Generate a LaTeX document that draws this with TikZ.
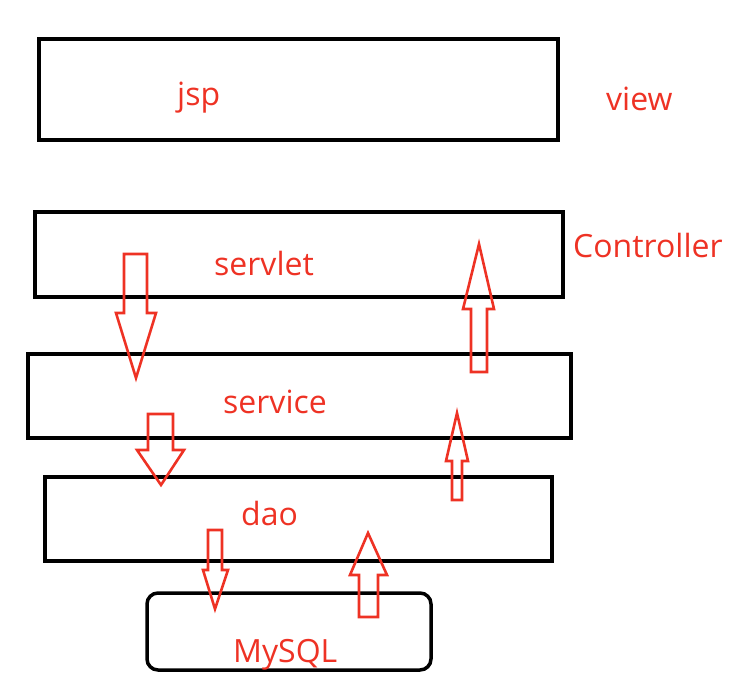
\documentclass[tikz,border=0pt]{standalone}
\usepackage{fontspec}
\setmainfont{Open Sans}
\usetikzlibrary{calc}

\definecolor{layerred}{RGB}{238,50,36}

\begin{document}
\begin{tikzpicture}[x=1pt, y=-1pt,
  box/.style={line width=3.5pt, draw=black},
  lbl/.style={text=layerred, anchor=base west, inner sep=0pt, font=\fontsize{32}{38}\selectfont},
  blk/.style={draw=layerred, line width=2.6pt, line join=miter}]

\useasboundingbox (0,0) rectangle (754,676);

% layers
\draw[box] (39,39) rectangle (558,140);
\draw[box] (35,212) rectangle (563,297);
\draw[box] (28,354) rectangle (571,438);
\draw[box] (45,477) rectangle (552,561);
\draw[box, rounded corners=11pt] (147,593) rectangle (431,670);

\node[lbl] (jsp) at (177,106) {jsp};
\node[lbl] (view) at (606,111) {view};
\node[lbl] (servlet) at (214,275) {servlet};
\node[lbl] (ctrl) at (573,258) {Controller};
\node[lbl] (service) at (223,413) {service};
\node[lbl] (dao) at (241,525) {dao};
\node[lbl] (mysql) at (233,662) {MySQL};

% request going down
\draw[blk] (124,254) -- (147,254) -- (147,313) -- (156,313) -- (136,378)
  -- (116,313) -- (124,313) -- cycle;
\draw[blk] (148,414) -- (173,414) -- (173,450) -- (184,450) -- (161,485)
  -- (137,450) -- (148,450) -- cycle;
\draw[blk] (208,530) -- (222,530) -- (222,570) -- (228,570) -- (215,609)
  -- (203,570) -- (208,570) -- cycle;

% response going up
\draw[blk] (359,617) -- (378,617) -- (378,575) -- (387,575) -- (368,533)
  -- (350,575) -- (359,575) -- cycle;
\draw[blk] (452,500) -- (462,500) -- (462,461) -- (468,461) -- (457,413)
  -- (446,461) -- (452,461) -- cycle;
\draw[blk] (471,372) -- (487,372) -- (487,309) -- (494,309) -- (479,244)
  -- (463,309) -- (471,309) -- cycle;

\end{tikzpicture}
\end{document}
